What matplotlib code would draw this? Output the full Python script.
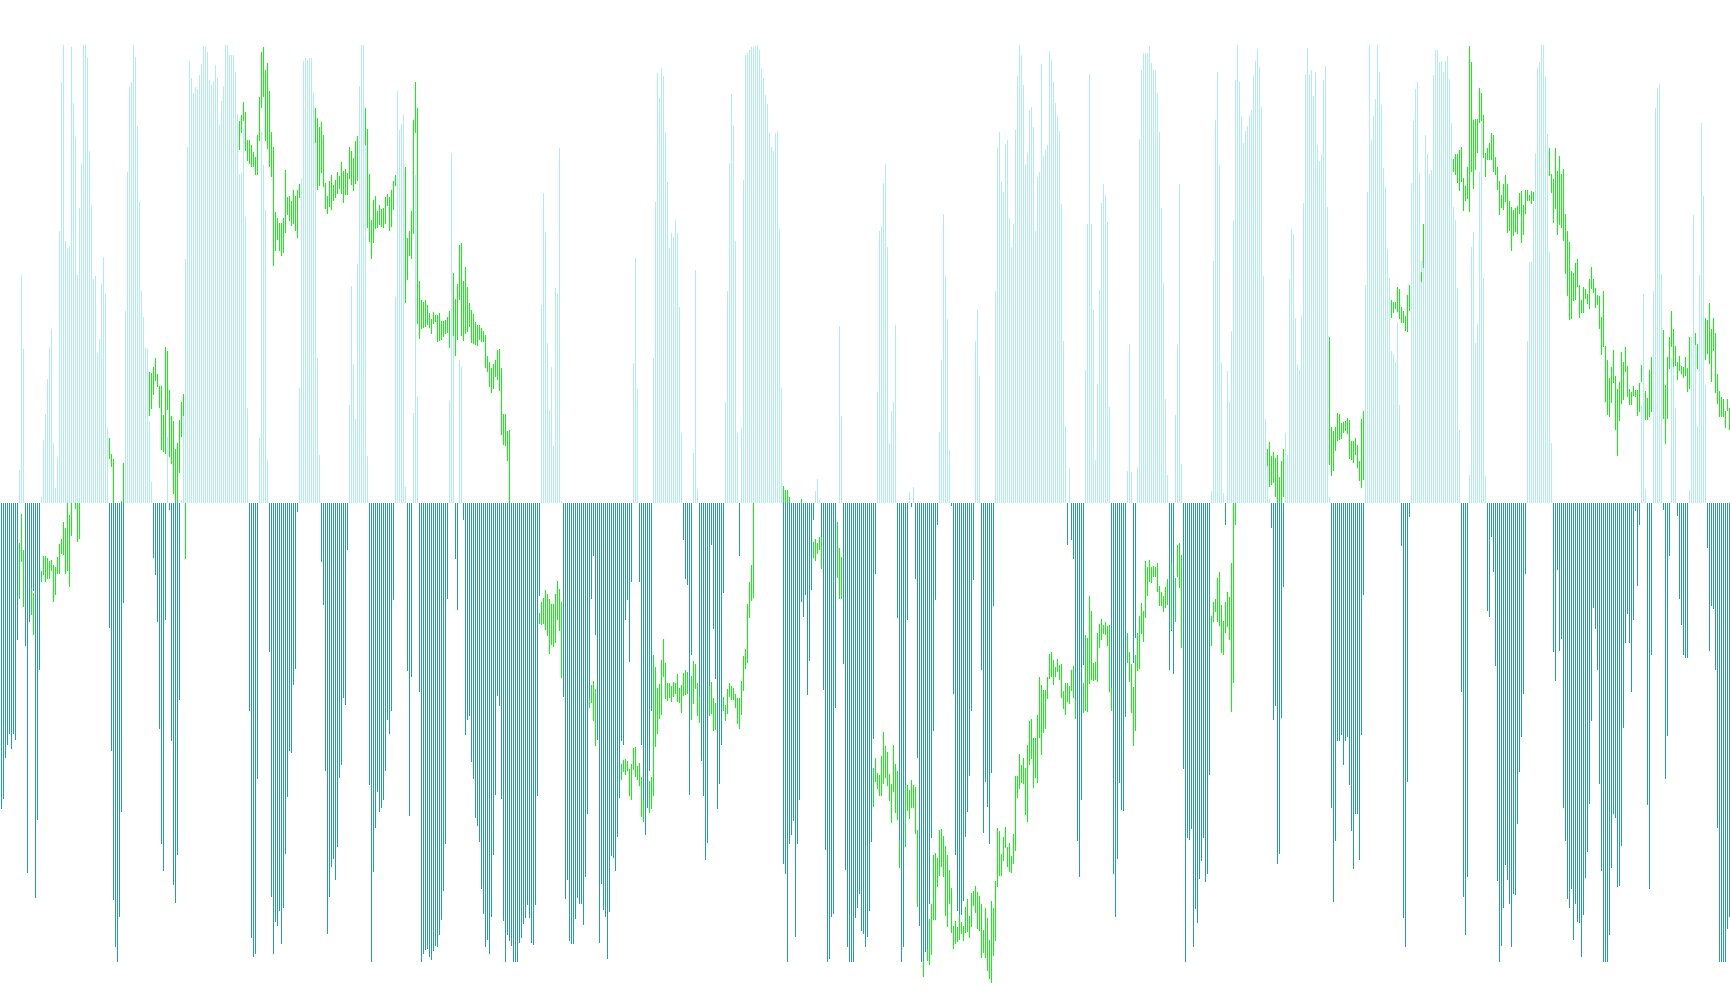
import matplotlib
matplotlib.use("Agg")
import matplotlib.pyplot as plt

# oscillator histogram, one list per 144 bars (positive = up, negative = down)
hist_1 = [-505, -488, -421, -398, -380, -405, -380, -390, -225, 55, 377, 255, -235, -610, -195, -145, -145, -652, -522, -275,
          10, 105, 147, 205, 257, 288, 100, 25, 77, 450, 695, 757, 433, 422, 425, 753, 661, 605, 377, 487,
          560, 757, 757, 735, 582, 493, 370, 375, 248, 271, 362, 407, 345, 125, -205, -408, -655, -733, -757, -683,
          -510, -165, 318, 547, 687, 695, 757, 737, 623, 498, 350, 308, 257, 255, 135, 35, -90, -118, -195, -372,
          -563, -607, -193, 110, -11, -392, -630, -659, -581, -325, 5, 175, 403, 588, 730, 702, 678, 687, 684, 707,
          725, 755, 755, 745, 699, 691, 697, 724, 702, 625, 665, 689, 757, 757, 740, 740, 740, 712, 643, 544,
          545, 620, 473, 158, -342, -718, -748, -743, -455, 108, 613, 559, 485, 72, -246, -650, -743, -691, -698, -673,
          -728, -668, -579, -485]
hist_2 = [-409, -412, -300, -274, -15, 191, 537, 730, 735, 732, 735, 735, 678, 600, 240, 80, -97, -168, -442, -710,
          -650, -601, -587, -622, -568, -454, -431, -322, -333, -77, 163, 359, 230, 139, 395, 689, 757, 757, 600, 78,
          -465, -757, -609, -535, -477, -510, -503, -490, -441, -358, -381, -342, -160, 341, 681, 616, 626, 641, 27, -277,
          -516, -287, 150, 542, 175, -312, -757, -744, -738, -735, -748, -754, -739, -731, -733, -713, -688, -639, -563, -157,
          169, 578, 300, -91, -176, 237, 225, -28, -383, -358, -351, -427, -455, -520, -533, -559, -637, -677, -733, -721,
          -743, -682, -581, -482, -318, -335, -488, -690, -757, -713, -723, -730, -757, -757, -757, -726, -718, -695, -685, -663,
          -684, -725, -729, -663, -483, -153, 328, 512, 448, 265, 154, 225, 94, 356, 346, 587, 4, -320, -653, -622,
          -723, -727, -728, -686]
hist_3 = [-652, -662, -662, -696, -617, -513, -330, -157, -86, -218, -390, -726, -628, -672, -683, -752, -675, -582, -586, -606,
          -550, -487, -392, -399, -193, -160, -262, -130, 232, 405, 189, -130, -399, -525, -548, -503, -442, -343, 240, 497,
          710, 669, 719, 706, 612, 531, 422, 446, 440, 468, 447, 324, 116, -60, -124, -135, -482, -250, 83, 385,
          24, -355, -425, -483, -589, -560, -350, -69, -208, -290, -505, -464, -398, -148, 168, 351, 562, 676, 623, 433,
          116, -87, 125, 534, 740, 744, 748, 754, 754, 755, 757, 748, 717, 702, 674, 659, 612, 588, 582, 612,
          615, 453, 191, -596, -612, -757, -562, -548, -525, -715, -562, -490, -163, -188, -152, -317, -260, -143, -27, 21,
          40, 5, -75, -308, -572, -757, -752, -682, -678, -338, 0, 293, 145, -265, -605, -733, -757, -757, -757, -685,
          -668, -645, -706, -711]
hist_4 = [-733, -715, -673, -559, -389, -117, 184, 450, 458, 529, 560, 423, 100, 153, 168, 295, -189, -555, -757, -733,
          -465, -192, 19, -6, 27, -124, -420, -697, -757, -757, -740, -740, -662, -553, -375, -160, -35, 118, 237, 478,
          375, 305, 88, -4, -315, -580, -673, -707, -680, -657, -550, -510, -450, -342, -127, 268, 319, 210, -275, -544,
          -460, -501, -562, -445, -169, 351, 587, 613, 531, 514, 593, 600, 471, 423, 461, 617, 706, 757, 740, 691,
          559, 578, 649, 654, 621, 450, 539, 547, 725, 574, 583, 591, 747, 732, 695, 661, 640, 615, 494, 268,
          128, -68, 59, -60, -92, -355, -558, -617, -489, -267, 220, 461, 709, 461, 319, 72, 197, 352, 496, 527,
          509, 465, 159, -342, -611, -683, -587, -461, -506, -507, -353, 54, 263, 52, -263, -222, 59, 602, 715, 743,
          744, 744, 755, 727]
hist_5 = [715, 715, 678, 613, 488, 364, 172, 47, -275, -210, -282, 146, 262, 527, 65, -439, -757, -552, -556, -537,
          -733, -669, -692, -620, -591, -553, -625, -612, -449, 21, 400, 633, 712, 559, 232, 17, -36, 219, 168, 285,
          466, 699, 757, 696, 638, 595, 615, 623, 640, 649, 706, 730, 750, 720, 654, 375, 140, 65, 7, -41,
          -358, -335, -596, -579, -355, -138, 116, 80, 371, 453, 445, 306, 229, 220, 309, 496, 709, 752, 707, 715,
          673, 712, 592, 565, 577, 699, 722, 489, 11, -503, -658, -558, -393, -393, -383, -431, -393, -385, -465, -540,
          -604, -513, -513, -589, -383, -152, 361, 514, 757, 600, 640, 667, 757, 712, 658, 554, 522, 420, 372, 252,
          247, 234, 300, 163, -70, -685, -733, -460, -23, 529, 631, 684, 696, 545, 400, 390, 608, 577, 544, 550,
          707, 748, 748, 729]
hist_6 = [730, 712, 730, 738, 701, 628, 489, 468, 356, 122, -311, -650, -712, -616, 47, 423, 448, 265, 296, 547,
          627, 372, 45, -177, -187, -55, -113, -268, -623, -757, -730, -668, -597, -621, -661, -733, -645, -646, -529, -443,
          -385, -314, -116, 268, 399, 399, 495, 578, 719, 729, 757, 757, 704, 610, 415, 100, -245, -293, -110, -243,
          -224, -502, -557, -653, -668, -637, -721, -662, -691, -693, -748, -680, -619, -575, -497, -359, -172, -208, -275, -464,
          -606, -757, -757, -757, -713, -602, -513, -519, -634, -632, -565, -371, -231, -183, -231, -312, -193, -13, -137, -35,
          160, 345, 24, -498, -637, -251, 351, 652, 686, 692, 379, -11, -455, -384, -86, 240, 287, 158, -21, -158,
          -200, -251, -255, -256, 22, 275, 476, 280, 128, 377, 628, 508, 196, -74, -244, -170, -175, -275, -536, -757,
          -757, -757, -757, -702, -682]
hist_chunks = [hist_1, hist_2, hist_3, hist_4, hist_5, hist_6]

# green candles: first bar of each run, then high and low for that run
candle_start = [9, 15, 20, 37, 54, 60, 74, 119, 157, 182, 202, 226, 269,
                294, 310, 324, 345, 354, 361, 391, 400, 406, 418,
                436, 452, 461, 463, 541, 563,
                577, 585, 587, 605, 633, 664, 695, 710,
                726, 774, 822, 831, 847, 852]
candle_hi = [
    [-65, -17, -77], [-140, -148],
    [-112, -86, -86, -90, -95, -93, -101, -105, -88, -67, -58, -30, -40, 0, -19, 0],
    [0, 0, 0], [108, 81, 73], [4, 67],
    [217, 215, 225, 240, 214, 194, 194, 146, 258, 252, 187, 144, 136, 90, 100, 138, 168, 181, 0],
    [631, 641, 663, 646, 600, 600, 592, 580, 572, 608, 671, 745, 753, 715, 727, 681, 613, 589, 481, 471, 463, 463, 471, 550, 506, 508,
     499, 517, 508, 517, 527],
    [653, 636, 621, 630, 608, 529, 508, 532, 542, 526, 534, 547, 541, 564, 549, 552, 545, 588, 582, 570, 598, 607],
    [652, 618, 544, 468, 501, 508, 483, 493, 486, 488, 506, 511, 506, 517, 532, 542],
    [555, 438, 450, 483, 633, 696, 653, 367, 336, 332, 336, 328, 314, 304, 316, 311, 311, 314, 301, 301, 303, 308, 318],
    [380, 338, 362, 427, 430, 367, 390, 357, 331, 319, 313, 300, 295, 294, 290, 285, 278, 243, 234, 224, 230, 237, 253, 255, 224, 148, 148, 120, 121],
    [-181, -163, -156, -143, -149, -158, -166, -166, -149, -128, -141, -163],
    [-322, -300, -293, -306],
    [-430, -423, -422, -425, -438, -430, -404, -402, -433, -428, -451, -489],
    [-458, -451, -250, -270, -305, -298, -258, -224, -263, -296, -296, -301, -295, -296, -281, -304, -300, -280, -275, -278],
    [-285, -260, -265, -296, -320],
    [-302, -295, -321, -329],
    [-319, -333, -306, -296, -301, -305, -314, -321, -321, -293, -252, -240, -166, -130, -102, 0],
    [28, 22, 22, 10], [7],
    [-64, -59, -65, -55, -55],
    [-31, -73, -88],
    [-437, -420, -445, -448, -417, -377, -400, -410, -446, -463, -399, -430, -442, -555],
    [-465, -465, -473, -456, -465, -468, -539],
    [-755],
    [-735, -686, -662, -580, -577, -585, -539, -537, -549, -565, -580, -605, -635, -697, -689, -700, -680, -691, -697, -666, -653, -681, -643, -640, -631, -641, -648,
     -661, -705, -668, -684, -720, -656, -668, -623, -536, -541, -579, -550, -534, -568, -560, -582, -546, -450, -450, -413, -432, -420, -436, -398, -360, -356, -387, -387, -350,
     -287, -299, -308, -308, -286, -248, -246, -258, -270, -257, -267, -265, -309, -296, -296, -301, -275, -268, -324],
    [-296, -217, -222, -153, -177, -263, -262, -214, -199, -191, -201, -195, -202, -200, -304],
    [-214, -245, -265, -303, -250, -214, -186, -164, -177, -95, -105, -93, -105, -103],
    [-105, -98, -136, -147, -153, -138, -125],
    [-99],
    [-123, -69, -65, -85],
    [-186, -163, -158, -123, -113, -168, -194, -163, -146, -154, -98, 0, 0],
    [90, 101, 78, 85, 75, 80, 44, 70, 90],
    [275, 126, 120, 126, 149, 148, 133, 134, 136, 141, 138, 103, 103, 108, 97, 70, 139, 153],
    [336, 333, 333, 357, 354, 324, 318, 309, 344, 361],
    [382, 461],
    [569, 577, 577, 583, 589, 537, 524, 555, 755, 729, 633, 635, 635, 685, 678, 641, 578, 587, 595, 612, 608, 572, 555, 533, 509, 527, 542, 527, 499, 489, 484, 488, 491, 512, 516, 493, 517, 518, 509, 516, 514],
    [587, 544, 536, 587, 549, 573, 543, 552, 478, 449, 432, 384, 380, 397, 404, 360, 336, 357, 354, 346, 371, 390, 371, 356, 344, 342, 308, 351, 260, 237, 207, 225, 253, 210, 189, 201, 250, 234, 258, 227, 189, 184, 194, 187, 187, 199, 228],
    [186, 174, 220, 242],
    [286, 196, 242, 275, 318, 288, 260, 234, 243, 227, 225, 242, 224, 274],
    [281, 263],
    [306, 303, 331, 288, 306, 281, 214, 186, 176, 172, 153, 172, 158],
]
candle_lo = [
    [-158, -97, -171], [-185, -218],
    [-129, -119, -129, -124, -125, -111, -163, -152, -116, -117, -83, -85, -117, -111, -138, -53],
    [-10, -64, -59], [74, 60, 0], [0, 0],
    [145, 156, 179, 202, 192, 158, 88, 85, 81, 154, 76, 65, 15, 0, 0, 50, 110, 145, -92],
    [583, 611, 631, 581, 566, 561, 555, 555, 542, 542, 598, 653, 671, 598, 585, 555, 539, 392, 416, 435, 417, 408, 413, 446, 476, 466,
     458, 461, 450, 438, 504],
    [595, 518, 524, 545, 522, 486, 478, 489, 485, 499, 504, 511, 519, 510, 496, 509, 509, 536, 525, 515, 527, 532],
    [592, 455, 432, 404, 430, 453, 455, 459, 456, 455, 462, 491, 450, 457, 484, 524],
    [331, 369, 408, 404, 444, 612, 296, 272, 288, 290, 292, 294, 290, 280, 296, 299, 267, 268, 270, 274, 280, 281, 257],
    [276, 243, 270, 336, 276, 268, 279, 283, 291, 265, 263, 262, 260, 269, 266, 267, 224, 217, 192, 182, 189, 208, 203, 186, 113, 97, 94, 70, 0],
    [-199, -200, -199, -209, -219, -248, -234, -237, -231, -192, -210, -289],
    [-338, -330, -359, -400],
    [-457, -444, -448, -442, -483, -489, -440, -451, -457, -467, -517, -526],
    [-511, -504, -483, -402, -380, -356, -349, -286, -323, -326, -321, -328, -319, -315, -327, -329, -346, -318, -317, -315],
    [-358, -331, -307, -351, -362],
    [-351, -347, -376, -374],
    [-343, -359, -347, -319, -324, -325, -338, -364, -373, -349, -309, -273, -263, -189, -161, -156],
    [0, 0, 0, 0], [0],
    [-90, -95, -83, -77, -108],
    [-123, -158, -158],
    [-501, -460, -471, -483, -483, -463, -454, -466, -492, -527, -476, -511, -523, -602],
    [-568, -508, -521, -503, -503, -546, -666],
    [-782],
    [-755, -762, -746, -688, -688, -633, -615, -600, -616, -681, -699, -661, -709, -736, -727, -724, -721, -711, -722, -709, -707, -717, -699, -665, -676, -702, -706,
     -750, -742, -751, -772, -785, -792, -747, -722, -633, -615, -615, -590, -569, -600, -608, -610, -595, -574, -486, -472, -462, -463, -514, -526, -432, -422, -470, -453, -462,
     -387, -415, -379, -372, -323, -290, -286, -300, -287, -279, -291, -321, -339, -349, -327, -331, -309, -322, -356],
    [-346, -343, -344, -298, -292, -293, -292, -295, -239, -225, -215, -218, -235, -311, -343],
    [-263, -295, -346, -400, -376, -276, -273, -215, -229, -189, -153, -129, -131, -121],
    [-121, -146, -169, -170, -179, -173, -168],
    [-209],
    [-196, -121, -139, -239],
    [-235, -195, -180, -195, -203, -247, -250, -214, -204, -225, -344, -296, -36],
    [62, 27, 30, 33, 10, 0, 0, 0, 11],
    [64, 45, 54, 87, 103, 104, 106, 117, 120, 115, 73, 72, 67, 80, 59, 37, 26, 38],
    [306, 315, 321, 316, 305, 298, 298, 285, 283, 318],
    [366, 389],
    [547, 542, 529, 516, 531, 483, 500, 503, 481, 547, 519, 550, 579, 628, 631, 571, 539, 567, 567, 567, 547, 542, 517, 476, 488, 484, 498, 446, 450, 417, 442, 448, 445, 478, 430, 443, 478, 499, 499, 494, 499],
    [541, 512, 463, 486, 443, 459, 455, 433, 379, 342, 303, 305, 334, 336, 357, 306, 314, 314, 337, 329, 321, 354, 347, 323, 328, 288, 245, 259, 168, 146, 143, 165, 199, 121, 78, 136, 164, 171, 217, 176, 163, 163, 178, 175, 144, 151, 201],
    [138, 138, 143, 151],
    [139, 98, 140, 222, 258, 226, 227, 204, 219, 214, 207, 210, 184, 189],
    [262, 222],
    [237, 247, 230, 201, 252, 182, 164, 143, 143, 143, 125, 153, 121],
]

hist_x, hist_y = [], []
for n, chunk in enumerate(hist_chunks):
    for i, v in enumerate(chunk):
        hist_x.append(144 * n + i + 0.75)
        hist_y.append(v)

fig = plt.figure(figsize=(17.3, 10.05), dpi=100)
ax = fig.add_axes([0, 0, 1, 1])

up_x = [x for x, v in zip(hist_x, hist_y) if v > 0]
up_y = [v for v in hist_y if v > 0]
down_x = [x for x, v in zip(hist_x, hist_y) if v < 0]
down_y = [v for v in hist_y if v < 0]
ax.bar(up_x, up_y, width=0.5, color="paleturquoise", linewidth=0, antialiased=False)
ax.bar(down_x, down_y, width=0.5, color="dodgerblue", linewidth=0, antialiased=False)

for start, hi, lo in zip(candle_start, candle_hi, candle_lo):
    xs = [start + i + 0.75 for i in range(len(hi))]
    heights = [h - l for h, l in zip(hi, lo)]
    ax.bar(xs, heights, bottom=lo, width=0.5, color="lime", linewidth=0, antialiased=False, zorder=3)

ax.set_xlim(0, 865)
ax.set_ylim(-828, 831)
ax.axis("off")

fig.savefig("out.png", dpi=100)
plt.close(fig)
